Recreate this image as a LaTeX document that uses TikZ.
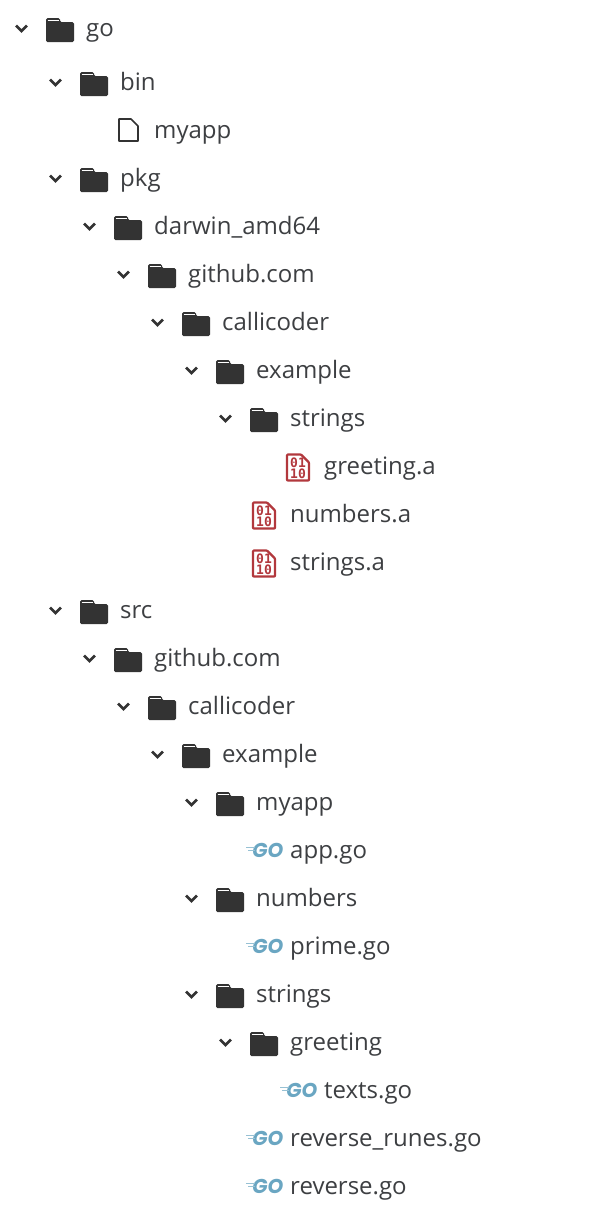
\documentclass[tikz,border=0pt]{standalone}
\usepackage{fontspec}
\setmainfont{Open Sans}
\newfontfamily\binfont{DejaVu Sans Mono}
\newfontfamily\gofont{Poppins}
\definecolor{Ink}{HTML}{333333}
\definecolor{Label}{HTML}{3D3F42}
\definecolor{Archive}{HTML}{B2383D}
\definecolor{Gopher}{HTML}{6AA6C2}
\tikzset{
  label/.style={anchor=base west,inner sep=0pt,text=Label,font=\fontsize{24}{24}\selectfont},
  chevron/.style={draw=Ink,line width=2.8pt,line join=miter},
  bits/.style={inner sep=0pt,text=Archive,font=\binfont\bfseries\fontsize{13}{11}\selectfont},
  gomark/.style={inner sep=0pt,text=Gopher,font=\gofont\bfseries\itshape\fontsize{20}{20}\selectfont}
}
% #1 = left edge of the label, #2 = row
\newcommand\foldericon[2]{
  \draw[chevron] (#1-70,#2-2.5) --++(5.5,5.5) --++(5.5,-5.5);
  \fill[Ink,rounded corners=1.5pt] (#1-40,#2-10) --++(14,0) --++(0,4) --++(14,0)
    --++(0,20) --++(-28,0) --cycle;
  \draw[white,line width=1.2pt] (#1-38.5,#2-7.6) --++(11,0);
}
\begin{document}
\begin{tikzpicture}[x=1pt,y=-1pt]
\useasboundingbox[fill=white] (0,0) rectangle (598,1210);
\foreach \name/\x/\y/\t in {
  go/86/28/go, bin/120/82/bin, pkg/120/178/pkg,
  darwin/154/226/darwin\_amd64, pkghub/188/274/github.com,
  pkgcalli/222/322/callicoder, pkgexample/256/370/example,
  pkgstrings/290/418/strings,
  src/120/610/src, srchub/154/658/github.com,
  srccalli/188/706/callicoder, srcexample/222/754/example,
  srcmyapp/256/802/myapp, srcnumbers/256/898/numbers,
  srcstrings/256/994/strings, srcgreeting/290/1042/greeting}{
  \foldericon{\x}{\y}
  \node[label] (\name) at (\x,\y+8.5) {\t};}
% plain file
\draw[Ink,line width=1.7pt,line join=round] (119,119) -- (131,119) -- (138,126) -- (138,141) -- (119,141) -- cycle;
\node[label] (myapp) at (154,138.5) {myapp};
% archives
\foreach \name/\x/\y/\t in {
  greeting/324/466/greeting.a, numbers/290/514/numbers.a, strings/290/562/strings.a}{
  \draw[Archive,line width=2.2pt,line join=round,rounded corners=0.8pt] (\x-37,\y-11.5) -- (\x-23,\y-11.5) -- (\x-15,\y-3.5)
    -- (\x-15,\y+14.5) -- (\x-37,\y+14.5) -- cycle;
  \node[bits,align=center] (\name bits) at (\x-26,\y+2.5) {01\\10};
  \node[label] (\name) at (\x,\y+8.5) {\t};}
% go sources
\foreach \name/\x/\y/\t in {
  app/290/850/app.go, prime/290/946/prime.go, texts/324/1090/texts.go,
  runes/290/1138/reverse\_runes.go, reverse/290/1186/reverse.go}{
  \node[gomark,anchor=base east] (\name logo) at (\x-6.5,\y+7) {GO};
  \draw[Gopher!70,line width=0.9pt] (\x-44,\y-3) --++(9,0) (\x-42,\y) --++(7,0);
  \node[label] (\name) at (\x,\y+8.5) {\t};}
\end{tikzpicture}
\end{document}
